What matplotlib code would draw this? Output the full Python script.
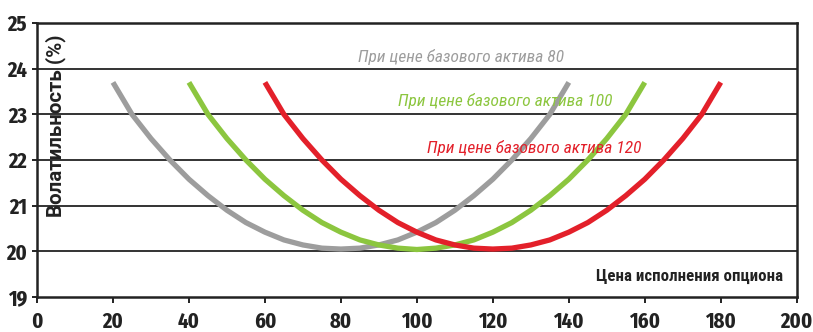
import matplotlib
matplotlib.use("Agg")
import matplotlib.pyplot as plt

# strike prices and read-off volatility values for each underlying price
x80 = [20, 25, 30, 35, 40, 45, 50, 55, 60, 65, 70, 75, 80, 85, 90, 95, 100, 105, 110, 115, 120, 125, 130, 135, 140]
y80 = [23.7, 23.0, 22.47, 22.0, 21.58, 21.22, 20.9, 20.63, 20.42, 20.25, 20.14, 20.07, 20.05,
       20.07, 20.14, 20.25, 20.42, 20.63, 20.9, 21.22, 21.58, 22.0, 22.47, 23.0, 23.7]

x100 = [40, 45, 50, 55, 60, 65, 70, 75, 80, 85, 90, 95, 100, 105, 110, 115, 120, 125, 130, 135, 140, 145, 150, 155, 160]
y100 = [23.7, 23.0, 22.47, 22.0, 21.58, 21.22, 20.9, 20.63, 20.42, 20.25, 20.14, 20.07, 20.04,
        20.07, 20.14, 20.25, 20.42, 20.63, 20.9, 21.22, 21.58, 22.0, 22.47, 23.0, 23.7]

x120 = [60, 65, 70, 75, 80, 85, 90, 95, 100, 105, 110, 115, 120, 125, 130, 135, 140, 145, 150, 155, 160, 165, 170, 175, 180]
y120 = [23.7, 23.0, 22.47, 22.0, 21.58, 21.22, 20.9, 20.63, 20.42, 20.25, 20.14, 20.07, 20.05,
        20.07, 20.14, 20.25, 20.42, 20.63, 20.9, 21.22, 21.58, 22.0, 22.47, 23.0, 23.7]

labels = ["При цене базового актива 80", "При цене базового актива 100", "При цене базового актива 120"]
colors = ["#9d9d9d", "#8cc63f", "#e3202a"]
xticks = [0, 20, 40, 60, 80, 100, 120, 140, 160, 180, 200]
yticks = [19, 20, 21, 22, 23, 24, 25]

font = ["Roboto Condensed", "DejaVu Sans"]
tickfont = ["Fira Sans Extra Condensed", "Roboto Condensed", "DejaVu Sans"]

fig = plt.figure(figsize=(8.13, 3.32), dpi=100)
ax = fig.add_axes([0.0455, 0.1054, 0.9345, 0.8253])

for y in yticks[1:]:
    ax.axhline(y, color="#333333", lw=1.4, zorder=1)

for xs, ys, c in zip([x80, x100, x120], [y80, y100, y120], colors):
    ax.plot(xs, ys, color=c, lw=3.8, solid_capstyle="butt", zorder=3)

ax.text(84.5, 24.26, labels[0], color=colors[0], fontsize=12.5, style="italic",
        family=font, va="center", ha="left")
ax.text(95, 23.3, labels[1], color=colors[1], fontsize=12.5, style="italic",
        family=font, va="center", ha="left")
ax.text(102.6, 22.27, labels[2], color=colors[2], fontsize=12.5, style="italic",
        family=font, va="center", ha="left")

ax.text(5.0, 22.74, "Волатильность (%)", rotation=90, fontsize=14.8, fontweight="bold",
        family=["Roboto", "DejaVu Sans"], va="center", ha="center", color="#222222")
ax.text(196.3, 19.46, "Цена исполнения опциона", fontsize=12.2, fontweight="bold",
        family=font, va="center", ha="right", color="#222222")

ax.set_xlim(0, 200)
ax.set_ylim(19, 25)
ax.set_xticks(xticks)
ax.set_yticks(yticks)
for lab in ax.get_xticklabels() + ax.get_yticklabels():
    lab.set_family(tickfont)
    lab.set_fontweight("bold")
    lab.set_fontsize(16)
    lab.set_color("#222222")
ax.tick_params(axis="x", direction="out", length=4.3, width=1.4, color="#222222", pad=6)
ax.tick_params(axis="y", direction="out", length=3.6, width=1.4, color="#222222", pad=3.5)
for s in ax.spines.values():
    s.set_linewidth(1.8)
    s.set_color("#222222")

fig.savefig("out.png", dpi=100)
